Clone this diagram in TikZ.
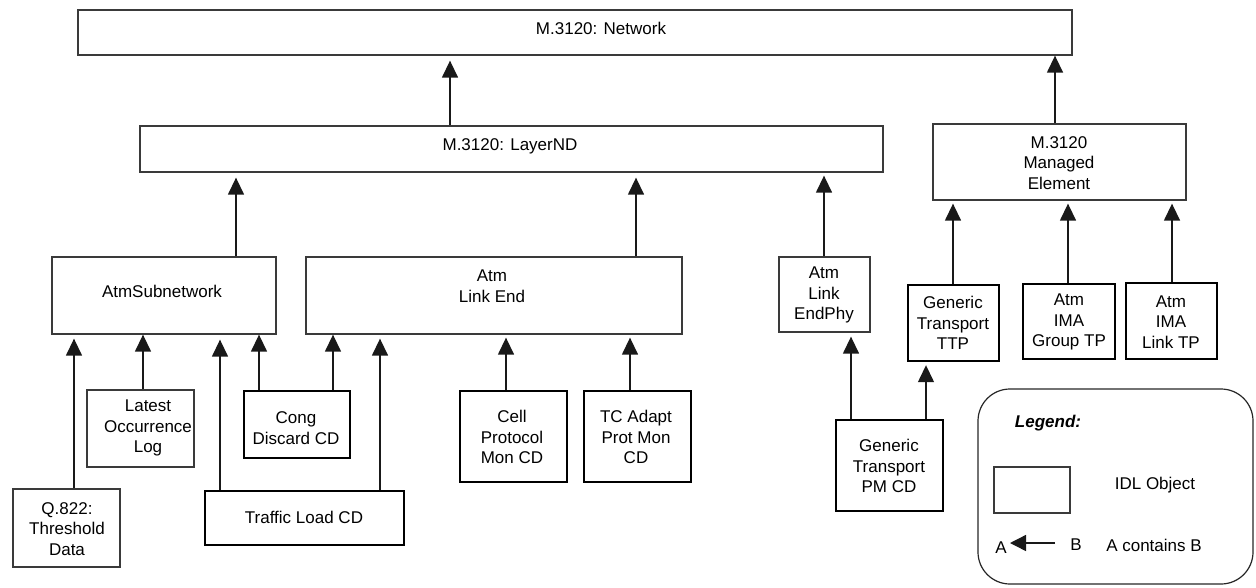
\documentclass[tikz,border=0pt]{standalone}
\usepackage{fontspec}
\setmainfont{Liberation Sans}
\usetikzlibrary{arrows.meta}
\definecolor{thingray}{HTML}{3A3A3A}
\tikzset{
  thinbox/.style={draw=thingray, line width=1.3pt, inner sep=0pt},
  thickbox/.style={draw=black, line width=2.4pt, inner sep=0pt},
  lbl/.style={inner sep=0pt, align=center,
              font=\fontsize{17}{20.5}\selectfont},
  arr/.style={draw=black!90, line width=1.4pt, -{Triangle[width=16pt,length=17pt]}},
}
\begin{document}
\begin{tikzpicture}[x=1pt, y=-1pt]
\useasboundingbox (0,0) rectangle (1256,587);

% top level
\node[thinbox, minimum width=994pt, minimum height=45pt] (net) at (575,32.5) {};
\node[lbl] (netl) at (601,28) {M.3120: Network};

\node[thinbox, minimum width=743pt, minimum height=46pt] (layer) at (511.5,149) {};
\node[lbl] (layerl) at (510,146) {M.3120: LayerND};

\node[thinbox, minimum width=253pt, minimum height=76pt] (me) at (1059.5,162) {};
\node[lbl] (mel) at (1059,163) {M.3120\\Managed\\Element};

% middle level
\node[thinbox, minimum width=224pt, minimum height=77pt] (sub) at (164,295.5) {};
\node[lbl] (subl) at (162,291) {AtmSubnetwork};

\node[thinbox, minimum width=376pt, minimum height=77pt] (linkend) at (494,295.5) {};
\node[lbl] (linkendl) at (492,286) {Atm\\Link End};

\node[thinbox, minimum width=91pt, minimum height=75pt] (endphy) at (824.5,294.5) {};
\node[lbl] (endphyl) at (824,295) {Atm\\Link\\EndPhy};

\node[thickbox, minimum width=91pt, minimum height=76pt] (ttp) at (953.5,323) {};
\node[lbl] (ttpl) at (953,323) {Generic\\Transport\\TTP};

\node[thickbox, minimum width=92pt, minimum height=75pt] (imag) at (1069,321.5) {};
\node[lbl] (imagl) at (1069,322) {Atm\\IMA\\Group TP};

\node[thickbox, minimum width=91pt, minimum height=76pt] (imal) at (1171.5,321) {};
\node[lbl] (imall) at (1171,322) {Atm\\IMA\\Link TP};

% bottom level
\node[thinbox, minimum width=107pt, minimum height=77pt] (log) at (140.5,428.5) {};
\node[lbl] (logl) at (148,428) {Latest\\Occurrence\\Log};

\node[thinbox, minimum width=107pt, minimum height=78pt] (q822) at (66.5,528) {};
\node[lbl] (q822l) at (67,529) {Q.822:\\Threshold\\Data};

\node[thickbox, minimum width=106pt, minimum height=67pt] (cong) at (297,424.5) {};
\node[lbl] (congl) at (296,428) {Cong\\Discard CD};

\node[thickbox, minimum width=199pt, minimum height=54pt] (traffic) at (304.5,518) {};
\node[lbl] (trafficl) at (304,517) {Traffic Load CD};

\node[thickbox, minimum width=107pt, minimum height=91pt] (cell) at (513.5,436.5) {};
\node[lbl] (celll) at (512,437) {Cell\\Protocol\\Mon CD};

\node[thickbox, minimum width=107pt, minimum height=91pt] (tc) at (637.5,436.5) {};
\node[lbl] (tcl) at (636,437) {TC Adapt\\Prot Mon\\CD};

\node[thickbox, minimum width=107pt, minimum height=91pt] (pmcd) at (889.5,465.5) {};
\node[lbl] (pmcdl) at (889,466) {Generic\\Transport\\PM CD};

% connectors (child -> parent)
\draw[arr, shorten >=5pt] (layer.north -| 450,0) -- (net.south -| 450,0);
\draw[arr] (me.north -| 1055,0) -- (net.south -| 1055,0);
\draw[arr, shorten >=5pt] (sub.north -| 236,0) -- (layer.south -| 236,0);
\draw[arr, shorten >=5pt] (linkend.north -| 636,0) -- (layer.south -| 636,0);
\draw[arr, shorten >=3pt] (endphy.north -| 824,0) -- (layer.south -| 824,0);
\draw[arr, shorten >=3pt] (ttp.north -| 953,0) -- (me.south -| 953,0);
\draw[arr, shorten >=3pt] (imag.north -| 1068,0) -- (me.south -| 1068,0);
\draw[arr, shorten >=3pt] (imal.north -| 1172,0) -- (me.south -| 1172,0);
\draw[arr, shorten >=4pt] (pmcd.north -| 851,0) -- (endphy.south -| 851,0);
\draw[arr, shorten >=3pt] (pmcd.north -| 926,0) -- (ttp.south -| 926,0);
\draw[arr, shorten >=4pt] (q822.north -| 74,0) -- (sub.south -| 74,0);
\draw[arr] (log.north -| 143,0) -- (sub.south -| 143,0);
\draw[arr, shorten >=5pt] (traffic.north -| 220,0) -- (sub.south -| 220,0);
\draw[arr] (cong.north -| 259,0) -- (sub.south -| 259,0);
\draw[arr] (cong.north -| 333,0) -- (linkend.south -| 333,0);
\draw[arr, shorten >=4pt] (traffic.north -| 380,0) -- (linkend.south -| 380,0);
\draw[arr, shorten >=3pt] (cell.north -| 506,0) -- (linkend.south -| 506,0);
\draw[arr, shorten >=3pt] (tc.north -| 630,0) -- (linkend.south -| 630,0);

% legend
\draw[draw=black!85, line width=1.2pt, rounded corners=32pt] (978,389) rectangle (1253,584);
\node[lbl, font=\fontsize{17}{20.5}\selectfont\bfseries\itshape] (legt) at (1048,423) {Legend:};
\node[thinbox, minimum width=76pt, minimum height=46pt] (legbox) at (1032,490) {};
\node[lbl] (legidl) at (1155,485) {IDL Object};
\node[lbl] (lega) at (1001,548) {A};
\node[lbl] (legb) at (1076,545) {B};
\node[lbl] (legc) at (1154,545) {A contains B};
\coordinate (lgs) at (1055,543);
\coordinate (lge) at (1010,543);
\draw[arr, -{Triangle[width=16pt,length=16pt]}] (lgs) -- (lge);
\end{tikzpicture}
\end{document}
